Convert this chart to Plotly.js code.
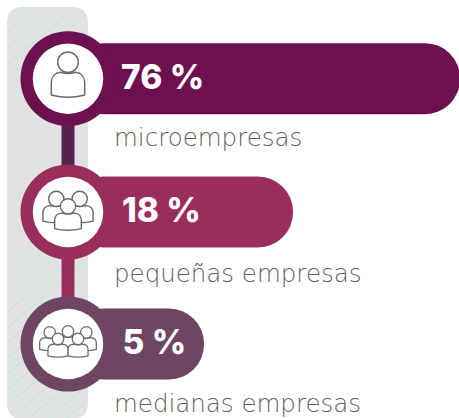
<!DOCTYPE html>
<html><head><meta charset="utf-8">
<script src="https://cdn.plot.ly/plotly-3.0.1.min.js"></script>
<style>html,body{margin:0;padding:0;background:#fff;overflow:hidden}#c{width:459px;height:418px}</style>
</head><body><div id="c"></div><script>
const categories = ["microempresas", "pequeñas empresas", "medianas empresas"];
const percents = [76, 18, 5];
const barEnds = [460, 293, 204];
const rowY = [78.7, 212, 344];
const valueY = [81, 214, 346];
const labelY = [140, 275.5, 406];
const colors = ["#6c104f", "#992e5e", "#6e4562"];
const connectorColors = ["#57224f", "#992e5e"];
const centerX = 68, valueX = [121, 122, 122.5], labelX = 114;

const shapes = [];
// panel
const L=7,R=88,T=7,B=419,r=16;
shapes.push({type:"path",layer:"below",line:{width:0},fillcolor:"#e1e2e2",
  path:`M${L},${T+r} Q${L},${T} ${L+r},${T} L${R-r},${T} Q${R},${T} ${R},${T+r} L${R},${B-r} Q${R},${B} ${R-r},${B} L${L+r},${B} Q${L},${B} ${L},${B-r} Z`});
// hatch
const slope=0.82;
function alphaAt(y){ if(y<75) return 0.6; if(y<250) return 0.12; if(y<300) return 0.4; return 0.75; }
function inPanel(x,y){
  if(x<L||x>R||y<T||y>B-1) return false;
  const c=(cx,cy)=>Math.hypot(x-cx,y-cy)<=r;
  if(x<L+r&&y<T+r) return c(L+r,T+r);
  if(x>R-r&&y<T+r) return c(R-r,T+r);
  if(x<L+r&&y>B-r) return c(L+r,B-r);
  if(x>R-r&&y>B-r) return c(R-r,B-r);
  return true;
}
for(let c=-60;c<560;c+=15.5){
  const step=6;
  for(let x=L;x<R;x+=step){
    const x1=x+step, y1=c-slope*(x1-L), ya=c-slope*(x-L);
    if(inPanel(x,ya)&&inPanel(x1,y1)){
      shapes.push({type:"line",layer:"below",x0:x,x1:x1,y0:ya,y1:y1,
        line:{width:0.8,color:`rgba(165,222,222,${alphaAt(ya)})`}});
    }
  }
}
// connectors
connectorColors.forEach((col,i)=>{
  shapes.push({type:"rect",layer:"below",x0:centerX-6.5,x1:centerX+6.5,y0:rowY[i]+30,y1:rowY[i+1]-30,fillcolor:col,line:{width:0}});
});
// icons
const stroke={color:"#6a6a6a",width:1.4};
function person(cx,cy,sx,sy,w){
  const hr=10.3;
  const P=(x,y)=>`${(cx+x*sx).toFixed(2)},${(cy+y*sy).toFixed(2)}`;
  const l={color:stroke.color,width:w||stroke.width};
  shapes.push({type:"path",fillcolor:"#fff",line:l,
    path:`M${P(-16.7,16.3)} L${P(-16.7,4)} C${P(-16.7,-2)} ${P(-13,-6)} ${P(-7.5,-6.5)} Q${P(0,-4)} ${P(7.5,-6.5)} C${P(13,-6)} ${P(16.7,-2)} ${P(16.7,4)} L${P(16.7,16.3)} Q${P(0,21)} ${P(-16.7,16.3)} Z`});
  const rx=hr*(sx+sy)/2, hy=cy-16.4*sy;
  shapes.push({type:"circle",fillcolor:"#fff",line:l,x0:cx-rx,x1:cx+rx,y0:hy-rx,y1:hy+rx});
}
const cy1=rowY[0],cy2=rowY[1],cy3=rowY[2];
person(centerX,cy1,1,1,1.5);
person(centerX-11.7,cy2-2,0.8,0.68);person(centerX+11.7,cy2-2,0.8,0.68);person(centerX,cy2+5.5,0.8,0.68);
person(centerX,cy3-4,0.6,0.52,1.25);
person(centerX-18.3,cy3-3,0.6,0.52,1.25);person(centerX+18.3,cy3-3,0.6,0.52,1.25);
person(centerX-10,cy3+3.5,0.6,0.52,1.25);person(centerX+10,cy3+3.5,0.6,0.52,1.25);

const traces=[
 {type:"bar",orientation:"h",y:rowY,x:barEnds.map(e=>e-centerX),base:centerX,width:71,
  marker:{color:colors,cornerradius:35,line:{width:0}},hoverinfo:"skip"},
 {type:"scatter",mode:"markers",x:rowY.map(()=>centerX),y:rowY,
  marker:{size:95,color:colors,line:{width:0}},hoverinfo:"skip"},
 {type:"scatter",mode:"markers",x:rowY.map(()=>centerX),y:rowY,
  marker:{size:70.5,color:"#fff",line:{width:0}},hoverinfo:"skip"},
 {type:"scatter",mode:"text",x:valueX,y:valueY,text:percents.map(p=>p+" %"),textposition:"middle right",
  textfont:{family:"Inter, Arial, sans-serif",size:33.5,color:"#fff",weight:800},hoverinfo:"skip"},
 {type:"scatter",mode:"text",x:labelY.map(()=>labelX),y:labelY,text:categories,textposition:"middle right",
  textfont:{family:"'DejaVu Sans ExtraLight','DejaVu Sans Light','DejaVu Sans',sans-serif",size:24.5,color:"#5f5f5f",weight:200},hoverinfo:"skip"}
];
const layout={width:459,height:418,margin:{l:0,r:0,t:0,b:0},paper_bgcolor:"#fff",plot_bgcolor:"rgba(0,0,0,0)",
 showlegend:false,barmode:"overlay",shapes:shapes,dragmode:false,
 xaxis:{range:[0,459],visible:false,fixedrange:true},
 yaxis:{range:[418,0],visible:false,fixedrange:true}};
Plotly.newPlot("c",traces,layout,{displayModeBar:false,staticPlot:true});
</script></body></html>
